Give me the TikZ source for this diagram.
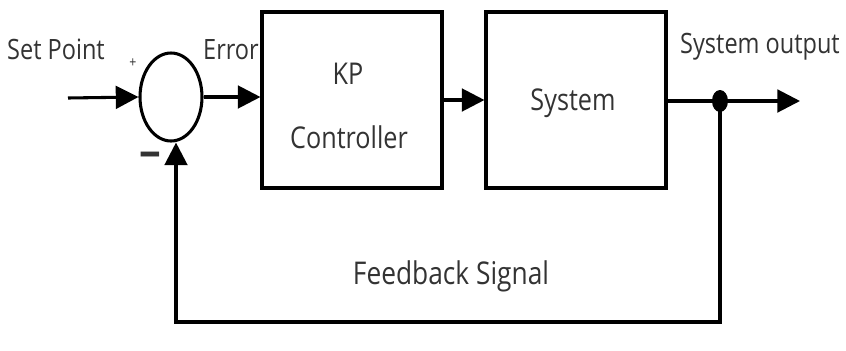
\documentclass[tikz,border=0pt]{standalone}
\usepackage{fontspec}
\setmainfont[FakeStretch=0.84]{Open Sans}
\usetikzlibrary{arrows.meta,shapes.geometric,positioning}

\begin{document}
\begin{tikzpicture}[
    x=0.75pt,
    y=-0.75pt,
    line width=2.3pt,
    every node/.style={inner sep=0pt, text=black!80, font=\fontsize{21}{24}\selectfont},
    block/.style={draw, minimum width=180*0.75pt, minimum height=176*0.75pt},
    blocktext/.style={font=\fontsize{22.5}{26}\selectfont},
    sig/.style={-{Triangle[length=17pt, width=17pt]}}
]
\useasboundingbox (0,0) rectangle (846,350);


% Summing junction
\node[draw, ellipse, minimum width=62*0.75pt, minimum height=88*0.75pt] (sum) at (171,97) {};
\coordinate (sp) at (68,98);


% Blocks
\node[block] (ctrl) at (352,100) {};
\node[blocktext] (kp) at (348,74) {KP};
\node[blocktext] (ctl) at (349,137) {Controller};
\node[block] (sys) at (576,100) {};
\node[blocktext] (sysname) at (573,103) {System};


% Output
\fill (720,101) ellipse (8 and 11) coordinate (tap);
\coordinate (out) at (800,101);
\coordinate (fb1) at (720,322);
\coordinate (fb2) at (176,322);


% Labels
\node (lsp) at (56,49) {Set Point};
\node[font=\fontsize{11}{12}\selectfont] (lplus) at (133,63) {+};
\node[font=\bfseries\fontsize{34}{36}\selectfont] (lminus) at (150,161) {\textminus};
\node (lerr) at (231,50) {Error};
\node (lout) at (760,47) {System output};
\node[font=\fontsize{23.5}{26}\selectfont] (lfb) at (451,276) {Feedback Signal};


% Signal flow
\draw[sig] (sp) -- (sum.west);
\draw[sig] (sum.east) -- (ctrl.west |- sum.east);
\draw[sig] (ctrl.east) -- (sys.west);
\draw[sig] (sys.east |- tap) -- (out);
\draw[sig] (tap) -- (fb1) -- (fb2) -- (sum.south -| fb2);


\end{tikzpicture}
\end{document}
